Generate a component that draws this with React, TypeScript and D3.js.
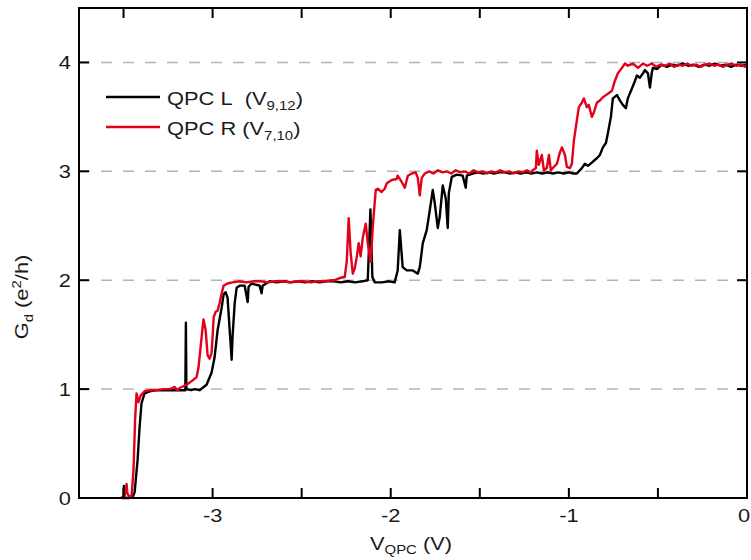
import React from "react";
import * as d3 from "d3";

// Conductance traces G_d (in e^2/h) versus gate voltage V_QPC (in V)
const qpcLTrace: [number, number][] = [
  [-3.51, 0], [-3.5, 0], [-3.498, 0.11], [-3.495, 0], [-3.47, 0], [-3.449, 0.01], [-3.438, 0.05],
  [-3.421, 0.35], [-3.41, 0.65], [-3.399, 0.87], [-3.382, 0.96], [-3.354, 0.98], [-3.32, 0.99],
  [-3.28, 0.99], [-3.24, 0.99], [-3.2, 0.99], [-3.17, 0.99], [-3.153, 0.99], [-3.15, 1.61],
  [-3.147, 1.0], [-3.12, 0.99], [-3.1, 1.0], [-3.073, 0.99], [-3.034, 1.04], [-3.006, 1.15],
  [-2.989, 1.29], [-2.972, 1.54], [-2.949, 1.75], [-2.938, 1.87], [-2.927, 1.89], [-2.916, 1.84],
  [-2.904, 1.54], [-2.893, 1.27], [-2.888, 1.48], [-2.876, 1.79], [-2.865, 1.93], [-2.848, 1.95],
  [-2.82, 1.95], [-2.803, 1.8], [-2.798, 1.94], [-2.781, 1.97], [-2.736, 1.95], [-2.725, 1.88],
  [-2.719, 1.95], [-2.68, 1.99], [-2.64, 1.98], [-2.6, 1.99], [-2.56, 1.98], [-2.52, 1.99],
  [-2.48, 1.98], [-2.44, 1.99], [-2.4, 1.98], [-2.36, 1.99], [-2.32, 1.99], [-2.28, 1.98],
  [-2.24, 1.99], [-2.2, 1.98], [-2.16, 1.99], [-2.129, 2.0], [-2.114, 2.65], [-2.103, 2.03],
  [-2.09, 1.98], [-2.05, 1.98], [-2.01, 1.99], [-1.978, 1.98], [-1.961, 2.09], [-1.949, 2.46],
  [-1.933, 2.12], [-1.91, 2.09], [-1.876, 2.09], [-1.848, 2.06], [-1.837, 2.12], [-1.82, 2.34],
  [-1.798, 2.46], [-1.781, 2.64], [-1.764, 2.83], [-1.753, 2.71], [-1.736, 2.48], [-1.725, 2.58],
  [-1.708, 2.87], [-1.691, 2.75], [-1.68, 2.48], [-1.674, 2.8], [-1.657, 2.95], [-1.629, 2.97],
  [-1.596, 2.96], [-1.579, 2.85], [-1.573, 2.96], [-1.54, 2.98], [-1.51, 2.99], [-1.48, 2.98],
  [-1.45, 2.99], [-1.42, 2.98], [-1.39, 2.99], [-1.36, 2.99], [-1.33, 2.98], [-1.3, 2.99],
  [-1.27, 2.98], [-1.24, 2.99], [-1.21, 2.98], [-1.18, 2.99], [-1.15, 2.98], [-1.12, 2.99],
  [-1.09, 2.98], [-1.06, 2.99], [-1.03, 2.98], [-1.0, 2.99], [-0.975, 2.98], [-0.955, 2.98],
  [-0.927, 3.03], [-0.91, 3.07], [-0.893, 3.05], [-0.871, 3.08], [-0.843, 3.12], [-0.826, 3.15],
  [-0.809, 3.22], [-0.792, 3.26], [-0.781, 3.35], [-0.764, 3.5], [-0.753, 3.67], [-0.73, 3.7],
  [-0.713, 3.65], [-0.697, 3.61], [-0.68, 3.58], [-0.669, 3.67], [-0.646, 3.76], [-0.629, 3.83],
  [-0.618, 3.88], [-0.601, 3.86], [-0.584, 3.9], [-0.573, 3.93], [-0.556, 3.9], [-0.545, 3.77],
  [-0.534, 3.91], [-0.528, 3.95], [-0.506, 3.94], [-0.478, 3.98], [-0.45, 3.96], [-0.42, 3.98],
  [-0.39, 3.97], [-0.36, 3.99], [-0.33, 3.97], [-0.3, 3.98], [-0.27, 3.96], [-0.24, 3.98],
  [-0.21, 3.97], [-0.18, 3.99], [-0.15, 3.97], [-0.12, 3.98], [-0.09, 3.96], [-0.06, 3.98],
  [-0.03, 3.97], [0, 3.98],
];

const qpcRTrace: [number, number][] = [
  [-3.515, 0], [-3.494, 0.02], [-3.487, 0.06], [-3.483, 0.13], [-3.479, 0.05], [-3.472, 0.02],
  [-3.455, 0.01], [-3.444, 0.26], [-3.435, 0.72], [-3.427, 0.96], [-3.416, 0.88], [-3.404, 0.94],
  [-3.382, 0.98], [-3.354, 0.99], [-3.32, 0.99], [-3.28, 1.0], [-3.242, 1.0], [-3.225, 1.01],
  [-3.213, 1.02], [-3.197, 0.99], [-3.185, 1.01], [-3.146, 1.04], [-3.112, 1.08], [-3.09, 1.11],
  [-3.079, 1.2], [-3.067, 1.39], [-3.056, 1.57], [-3.051, 1.64], [-3.039, 1.54], [-3.028, 1.31],
  [-3.017, 1.28], [-3.006, 1.33], [-3.0, 1.48], [-2.994, 1.66], [-2.983, 1.71], [-2.972, 1.72],
  [-2.961, 1.79], [-2.949, 1.88], [-2.938, 1.95], [-2.916, 1.97], [-2.888, 1.98], [-2.85, 1.99],
  [-2.81, 1.98], [-2.77, 1.99], [-2.73, 1.99], [-2.69, 1.98], [-2.65, 1.99], [-2.61, 1.99],
  [-2.57, 1.98], [-2.53, 1.99], [-2.49, 1.99], [-2.45, 1.98], [-2.41, 1.99], [-2.37, 1.99],
  [-2.33, 2.0], [-2.315, 2.0], [-2.287, 2.02], [-2.258, 2.03], [-2.247, 2.17], [-2.236, 2.57],
  [-2.225, 2.25], [-2.213, 2.06], [-2.202, 2.11], [-2.191, 2.21], [-2.18, 2.34], [-2.169, 2.22],
  [-2.157, 2.39], [-2.14, 2.52], [-2.129, 2.34], [-2.112, 2.17], [-2.101, 2.49], [-2.084, 2.83],
  [-2.073, 2.84], [-2.051, 2.81], [-2.034, 2.84], [-2.022, 2.89], [-1.994, 2.92], [-1.966, 2.93],
  [-1.961, 2.96], [-1.938, 2.9], [-1.921, 2.85], [-1.904, 2.96], [-1.882, 2.98], [-1.86, 2.99],
  [-1.848, 2.94], [-1.837, 2.78], [-1.826, 2.94], [-1.809, 2.98], [-1.785, 3.0], [-1.76, 2.98],
  [-1.735, 3.01], [-1.71, 2.99], [-1.685, 3.0], [-1.66, 2.98], [-1.635, 3.01], [-1.61, 2.99],
  [-1.585, 3.0], [-1.56, 2.98], [-1.535, 3.01], [-1.51, 2.99], [-1.485, 3.0], [-1.46, 2.98],
  [-1.435, 3.0], [-1.41, 2.99], [-1.385, 3.01], [-1.36, 2.99], [-1.335, 3.0], [-1.31, 2.98],
  [-1.285, 3.0], [-1.26, 2.99], [-1.235, 3.01], [-1.215, 2.99], [-1.202, 3.01], [-1.185, 3.03],
  [-1.18, 3.19], [-1.169, 3.06], [-1.152, 3.15], [-1.14, 3.01], [-1.124, 3.03], [-1.112, 3.15],
  [-1.101, 3.01], [-1.09, 3.03], [-1.067, 3.07], [-1.051, 3.17], [-1.039, 3.22], [-1.022, 3.15],
  [-1.011, 3.04], [-0.994, 3.03], [-0.983, 3.07], [-0.972, 3.28], [-0.955, 3.47], [-0.944, 3.59],
  [-0.927, 3.63], [-0.916, 3.67], [-0.899, 3.59], [-0.888, 3.61], [-0.871, 3.5], [-0.86, 3.54],
  [-0.843, 3.63], [-0.826, 3.65], [-0.809, 3.68], [-0.792, 3.7], [-0.775, 3.72], [-0.758, 3.74],
  [-0.742, 3.83], [-0.725, 3.9], [-0.702, 3.95], [-0.685, 3.99], [-0.669, 3.97], [-0.64, 3.99],
  [-0.612, 3.95], [-0.584, 3.99], [-0.56, 3.97], [-0.535, 3.99], [-0.51, 3.96], [-0.485, 3.98],
  [-0.46, 3.97], [-0.435, 3.99], [-0.41, 3.96], [-0.385, 3.98], [-0.36, 3.97], [-0.335, 3.99],
  [-0.31, 3.97], [-0.285, 3.98], [-0.26, 3.96], [-0.235, 3.98], [-0.21, 3.99], [-0.185, 3.97],
  [-0.16, 3.98], [-0.135, 3.96], [-0.11, 3.98], [-0.085, 3.99], [-0.06, 3.97], [-0.035, 3.98],
  [-0.01, 3.96], [0, 3.98],
];

const xTicks = [-3.5, -3, -2.5, -2, -1.5, -1, -0.5, 0];
const xTickLabels = [-3, -2, -1, 0];
const yTicks = [0, 1, 2, 3, 4];
const gridLevels = [1, 2, 3, 4];

const W = 751;
const H = 560;
const M = { left: 79, right: 747, top: 8, bottom: 498 };
const FONT = "'Liberation Sans', Arial, Helvetica, sans-serif";
const RED = "#e3001b";
const TEXT = "#1a1a1a";
// glyphs in this figure are a little wider than plain Arial
const STRETCH = 1.15;

function at(x: number, y: number, rot = 0) {
  return `translate(${x},${y})${rot ? ` rotate(${rot})` : ""} scale(${STRETCH},1)`;
}

export default function App() {
  const x = d3.scaleLinear().domain([-3.75, 0]).range([M.left, M.right]);
  const y = d3.scaleLinear().domain([0, 4.5]).range([M.bottom, M.top]);
  const line = d3
    .line<[number, number]>()
    .x((d) => x(d[0]))
    .y((d) => y(d[1]));
  const tickLen = 10;

  return (
    <svg
      width={W}
      height={H}
      style={{ position: "absolute", left: 0, top: 0, background: "#fff" }}
      fontFamily={FONT}
    >
      {/* dashed guide lines at integer conductance */}
      {gridLevels.map((g) => (
        <line
          key={`g${g}`}
          x1={M.left}
          x2={M.right}
          y1={y(g)}
          y2={y(g)}
          stroke="#b4b4b4"
          strokeWidth={1.5}
          strokeDasharray="11 11"
        />
      ))}

      {/* traces */}
      <path d={line(qpcLTrace) || ""} fill="none" stroke="#000" strokeWidth={2.4} strokeLinejoin="round" />
      <path d={line(qpcRTrace) || ""} fill="none" stroke={RED} strokeWidth={2.4} strokeLinejoin="round" />

      {/* frame */}
      <rect
        x={M.left}
        y={M.top}
        width={M.right - M.left}
        height={M.bottom - M.top}
        fill="none"
        stroke="#000"
        strokeWidth={2}
      />

      {/* x ticks, bottom and top, pointing inward */}
      {xTicks.map((t) => (
        <g key={`xt${t}`}>
          <line x1={x(t)} x2={x(t)} y1={M.bottom} y2={M.bottom - tickLen} stroke="#000" strokeWidth={2} />
          <line x1={x(t)} x2={x(t)} y1={M.top} y2={M.top + tickLen} stroke="#000" strokeWidth={2} />
        </g>
      ))}
      {xTickLabels.map((t) => (
        <text
          key={`xl${t}`}
          transform={at(t === 0 ? Math.min(x(t), W - 7) : x(t), 522)}
          textAnchor="middle"
          fontSize={19}
          fill={TEXT}
        >
          {t}
        </text>
      ))}

      {/* y ticks, left and right */}
      {yTicks.map((t) => (
        <g key={`yt${t}`}>
          <line x1={M.left} x2={M.left + tickLen} y1={y(t)} y2={y(t)} stroke="#000" strokeWidth={2} />
          <line x1={M.right} x2={M.right - tickLen} y1={y(t)} y2={y(t)} stroke="#000" strokeWidth={2} />
          <text transform={at(71, y(t) + 7)} textAnchor="end" fontSize={19} fill={TEXT}>
            {t}
          </text>
        </g>
      ))}

      {/* axis titles */}
      <text transform={at(411, 550)} textAnchor="middle" fontSize={19} fill={TEXT}>
        <tspan>V</tspan>
        <tspan fontSize={13} dy={4}>QPC</tspan>
        <tspan dy={-4}> (V)</tspan>
      </text>
      <text
        transform={at(28, (M.top + M.bottom) / 2 + 44, -90)}
        textAnchor="middle"
        fontSize={19}
        fill={TEXT}
      >
        <tspan>G</tspan>
        <tspan fontSize={13} dy={5}>d</tspan>
        <tspan dy={-5}> (e</tspan>
        <tspan fontSize={13} dy={-7}>2</tspan>
        <tspan dy={7}>/h)</tspan>
      </text>

      {/* legend */}
      <line x1={106} x2={160} y1={97} y2={97} stroke="#000" strokeWidth={2.4} />
      <text transform={at(167, 105)} fontSize={19} fill={TEXT}>
        <tspan>{"QPC L\u00a0 (V"}</tspan>
        <tspan fontSize={13} dy={5}>9,12</tspan>
        <tspan dy={-5}>)</tspan>
      </text>
      <line x1={106} x2={160} y1={127} y2={127} stroke={RED} strokeWidth={2.4} />
      <text transform={at(167, 135)} fontSize={19} fill={TEXT}>
        <tspan>QPC R (V</tspan>
        <tspan fontSize={13} dy={5}>7,10</tspan>
        <tspan dy={-5}>)</tspan>
      </text>
    </svg>
  );
}
